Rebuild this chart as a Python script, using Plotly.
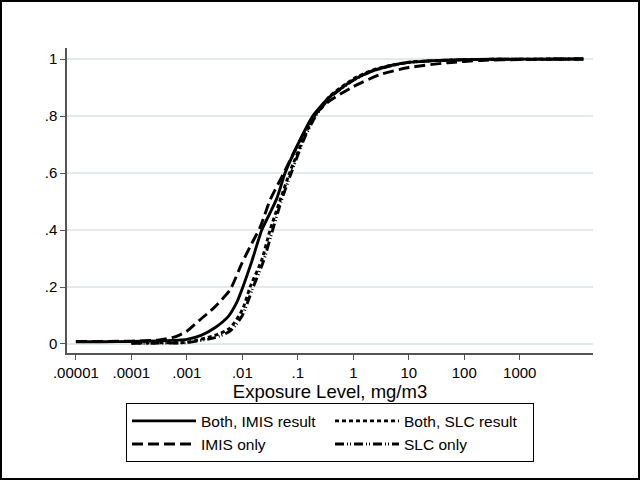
import plotly.graph_objects as go

# ---- data (exposure in mg/m3, cumulative fraction) ----
both_imis_x = [1e-5, 3e-5, 1e-4, 3.2e-4, 0.001, 0.0018, 0.0032, 0.0056, 0.0079, 0.01,
               0.0148, 0.0224, 0.0316, 0.0417, 0.059, 0.1, 0.186, 0.38, 1, 2, 5, 10, 50,
               300, 1000, 14000]
both_imis_y = [0.008, 0.008, 0.009, 0.011, 0.016, 0.03, 0.057, 0.097, 0.145, 0.195,
               0.29, 0.40, 0.46, 0.51, 0.60, 0.70, 0.80, 0.868, 0.926, 0.955, 0.978, 0.988,
               0.996, 0.999, 0.9995, 1.0]

imis_only_x = [1e-5, 1e-4, 3.2e-4, 6.3e-4, 0.001, 0.0017, 0.003, 0.006, 0.0098, 0.0148,
               0.021, 0.0316, 0.056, 0.1, 0.186, 0.355, 1, 3.2, 10, 50, 200, 1000, 14000]
imis_only_y = [0.009, 0.010, 0.014, 0.026, 0.045, 0.084, 0.125, 0.19, 0.283, 0.353,
               0.41, 0.505, 0.60, 0.70, 0.795, 0.85, 0.903, 0.947, 0.97, 0.987, 0.995,
               0.998, 1.0]

both_slc_x = [1e-4, 3.2e-4, 0.001, 0.0032, 0.006, 0.01, 0.0138, 0.0224, 0.0316, 0.048,
              0.071, 0.126, 0.2, 0.38, 1, 2, 5, 10, 50, 300, 1000, 14000]
both_slc_y = [0.003, 0.004, 0.006, 0.03, 0.056, 0.12, 0.20, 0.295, 0.40, 0.505,
              0.60, 0.72, 0.80, 0.87, 0.93, 0.958, 0.979, 0.989, 0.996, 0.999, 0.9995, 1.0]

slc_only_x = [1e-4, 3.2e-4, 0.001, 0.0032, 0.006, 0.01, 0.015, 0.024, 0.034, 0.05,
              0.076, 0.13, 0.21, 0.38, 1, 2, 5, 10, 50, 300, 1000, 14000]
slc_only_y = [0.002, 0.003, 0.005, 0.022, 0.045, 0.10, 0.19, 0.29, 0.39, 0.50,
              0.60, 0.72, 0.80, 0.865, 0.925, 0.955, 0.977, 0.988, 0.996, 0.999, 0.9995, 1.0]

x_tick_vals = [1e-5, 1e-4, 1e-3, 1e-2, 1e-1, 1, 10, 100, 1000]
x_tick_text = [".00001", ".0001", ".001", ".01", ".1", "1", "10", "100", "1000"]
y_tick_vals = [0, 0.2, 0.4, 0.6, 0.8, 1]
y_tick_text = ["0", ".2", ".4", ".6", ".8", "1"]

FONT = "Arial, Liberation Sans, Helvetica, sans-serif"
LW = 2.9

fig = go.Figure()
series = [
    ("Both, IMIS result", both_imis_x, both_imis_y, "solid"),
    ("Both, SLC result", both_slc_x, both_slc_y, "4px,3px"),
    ("IMIS only", imis_only_x, imis_only_y, "11px,5px"),
    ("SLC only", slc_only_x, slc_only_y, "9px,3px,1px,2px,1px,3px"),
]
for name, xs, ys, dash in series:
    fig.add_trace(go.Scatter(
        x=xs, y=ys, name=name, mode="lines",
        line=dict(color="black", width=LW, dash=dash, shape="spline", smoothing=0.6),
    ))

W, H = 640, 480
ml, mr, mt, mb = 67, 47, 48, 127
pw, ph = W - ml - mr, H - mt - mb

fig.update_layout(
    width=W, height=H,
    margin=dict(l=ml, r=mr, t=mt, b=mb, autoexpand=False),
    paper_bgcolor="white", plot_bgcolor="white",
    font=dict(family=FONT, color="black", size=15),
    showlegend=True,
    legend=dict(
        orientation="h", x=0.5, xanchor="center", y=-0.165, yanchor="top",
        bordercolor="black", borderwidth=1, bgcolor="white",
        font=dict(size=15.5, family=FONT, color="black"),
        itemwidth=64, entrywidth=124, traceorder="normal",
    ),
    xaxis=dict(
        type="log", range=[-5.16, 4.32],
        tickvals=x_tick_vals, ticktext=x_tick_text,
        showgrid=False, zeroline=False,
        showline=True, linecolor="#555555", linewidth=1.5,
        ticks="outside", ticklen=5, tickcolor="#555555", tickwidth=1.2,
        tickfont=dict(size=15),
        title=dict(text="Exposure Level, mg/m3", font=dict(size=18.5), standoff=1),
    ),
    yaxis=dict(
        range=[-0.0316, 1.0386],
        tickvals=y_tick_vals, ticktext=y_tick_text,
        showgrid=True, gridcolor="#e2eaea", gridwidth=1.5,
        zeroline=False,
        showline=True, linecolor="#555555", linewidth=1.5,
        ticks="outside", ticklen=5, tickcolor="#555555", tickwidth=1.2,
        tickfont=dict(size=15),
    ),
)

# outer frame around the whole graph region
fig.add_shape(
    type="rect", xref="paper", yref="paper",
    x0=(1 - ml) / pw, x1=(W - 1 - ml) / pw,
    y0=-(mb - 1) / ph, y1=1 + (mt - 1) / ph,
    line=dict(color="black", width=2), fillcolor="rgba(0,0,0,0)", layer="below",
)

fig.write_html("out.html", config={"displayModeBar": False},
               post_script="document.body.style.margin='0';")
